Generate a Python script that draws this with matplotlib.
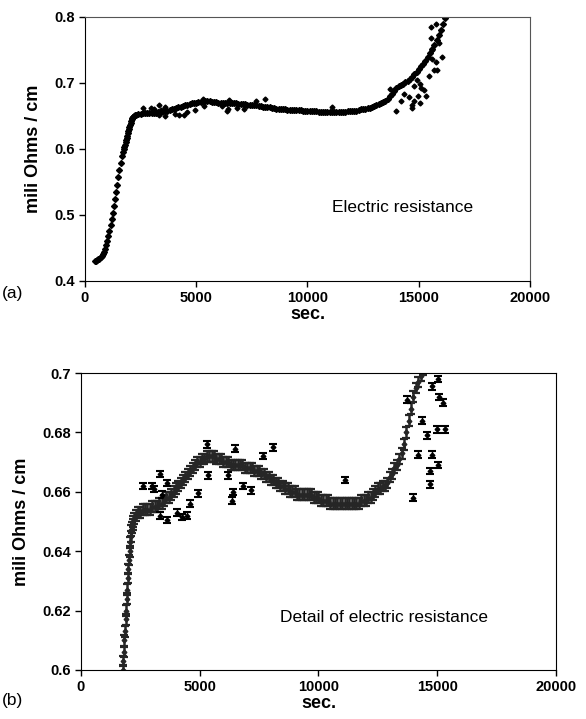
import numpy as np
import matplotlib.pyplot as plt

# resistance readings (sec., mili Ohms / cm)
time_s = [450, 500, 550, 600, 650, 700, 750, 800, 850, 900, 950, 1000, 1050, 1100,
          1150, 1200, 1250, 1300, 1350, 1400, 1450, 1500, 1550, 1600, 1650, 1700,
          1750, 1775, 1800, 1825, 1850, 1875, 1900, 1925, 1950, 1975, 2000, 2025,
          2050, 2075, 2100, 2125, 2150, 2175, 2200, 2250, 2300, 2400, 2500, 2600,
          2700, 2800, 2900, 3000, 3100, 3200, 3300, 3400, 3500, 3600, 3700, 3800,
          3900, 4000, 4100, 4200, 4300, 4400, 4500, 4600, 4700, 4800, 4900, 5000,
          5100, 5200, 5300, 5400, 5500, 5600, 5700, 5800, 5900, 6000, 6100, 6200,
          6300, 6400, 6500, 6600, 6700, 6800, 6900, 7000, 7100, 7200, 7300, 7400,
          7500, 7600, 7700, 7800, 7900, 8000, 8100, 8200, 8300, 8400, 8500, 8600,
          8700, 8800, 8900, 9000, 9100, 9200, 9300, 9400, 9500, 9600, 9700, 9800,
          9900, 10000, 10100, 10200, 10300, 10400, 10500, 10600, 10700, 10800, 10900,
          11000, 11100, 11200, 11300, 11400, 11500, 11600, 11700, 11800, 11900, 12000,
          12100, 12200, 12300, 12400, 12500, 12600, 12700, 12800, 12900, 13000, 13100,
          13200, 13300, 13400, 13500, 13600, 13700, 13800, 13900, 14000, 14100, 14200,
          14300, 14400, 14500, 14600, 14700, 14800, 14900, 15000, 15100, 15200, 15300,
          15400, 15500, 15600, 15700, 15800, 15900, 16000, 16100, 16200]
resistance = [.430, .431, .432, .433, .434, .436, .438, .441, .444, .449, .455, .461, .468, .476,
              .485, .494, .503, .513, .524, .535, .546, .557, .568, .579, .589, .596,
              .600, .603, .606, .610, .613, .617, .620, .624, .627, .631, .634, .637,
              .640, .643, .645, .647, .648, .649, .650, .651, .652, .653, .653, .654,
              .654, .654, .654, .655, .655, .655, .656, .656, .657, .658, .658, .659,
              .660, .661, .662, .663, .664, .665, .666, .667, .668, .669, .670, .670,
              .671, .671, .672, .672, .672, .672, .671, .671, .671, .670, .670, .670,
              .669, .669, .669, .669, .669, .669, .668, .668, .668, .668, .667, .667,
              .667, .666, .666, .665, .665, .664, .664, .663, .663, .662, .662, .661,
              .661, .660, .660, .660, .659, .659, .659, .659, .659, .659, .659, .658,
              .658, .658, .657, .657, .657, .657, .656, .656, .656, .656, .656,
              .656, .656, .656, .656, .656, .656, .656, .656, .657, .657, .657,
              .658, .658, .659, .660, .661, .661, .662, .662, .663, .665, .666,
              .668, .669, .671, .673, .676, .680, .684, .688, .692, .695, .697,
              .699, .701, .703, .706, .709, .713, .717, .721, .725, .729, .734,
              .739, .745, .751, .758, .765, .773, .781, .790, .799]

# scattered readings off the main trend
outlier_t = [2620, 2980, 3080, 3330, 3400, 3610, 3330, 3610, 4030, 4240, 4450, 4590, 4940,
             5290, 5360, 6180, 6480, 6410, 6370, 6830, 7140, 7680, 8070, 11120, 13980,
             13710, 14200, 14770, 14700, 15050, 14700, 14560, 14980, 15330, 15230, 14770,
             15050, 14340, 14940, 15090, 15465, 15610, 15690, 15765, 15840, 16065, 15540,
             15765, 15540, 15610, 15915, 15990]
outlier_r = [.662, .662, .661, .666, .659, .663, .652, .6505, .653, .6515, .652, .656, .6595,
             .676, .6655, .6655, .6745, .660, .657, .662, .6605, .672, .675, .664, .658,
             .691, .6725, .6725, .6625, .669, .667, .679, .681, .681, .690, .6955,
             .698, .684, .705, .692, .710, .737, .720, .732, .720, .740, .768,
             .790, .785, .750, .760, .780]
band_err = 0.0018   # dense overlapping bars of the main trend
point_err = 0.0011

tick_font = {'family': ['Liberation Sans', 'DejaVu Sans'], 'weight': 'bold', 'size': 10.5}
label_font = {'family': ['Liberation Sans', 'DejaVu Sans'], 'weight': 'bold', 'size': 13}
note_font = {'family': ['Liberation Sans', 'DejaVu Sans'], 'size': 12.5}
tag_font = {'family': ['Liberation Sans', 'DejaVu Sans'], 'size': 12.5}


def style_axis(ax, ylim, yticks):
    ax.set_xlim(0, 20000)
    ax.set_ylim(*ylim)
    ax.set_xticks([0, 5000, 10000, 15000, 20000])
    ax.set_xticklabels(['0', '5000', '10000', '15000', '20000'], fontdict=tick_font)
    ax.set_yticks(yticks)
    ax.set_yticklabels([f'{v:g}' for v in yticks], fontdict=tick_font)
    ax.tick_params(direction='out', length=4, width=1, pad=3)
    ax.set_xlabel('sec.', fontdict=label_font, labelpad=1)
    ax.set_ylabel('mili Ohms / cm', fontdict=label_font, labelpad=9)


fig = plt.figure(figsize=(5.86, 7.19), dpi=100)

# (a) full run
ax1 = fig.add_axes([0.145, 0.6092, 0.7594, 0.3672])
ax1.plot(time_s, resistance, 'D', color='black', markersize=3.0)
ax1.plot(outlier_t, outlier_r, 'D', color='black', markersize=2.5)
style_axis(ax1, (0.4, 0.8), [0.4, 0.5, 0.6, 0.7, 0.8])
for s in ['top', 'right']:
    ax1.spines[s].set_color('#555555')
ax1.text(11100, 0.511, 'Electric resistance', fontdict=note_font, va='center')
fig.text(0.004, 0.592, '(a)', fontdict=tag_font, va='center')

# (b) detail with error bars
ax2 = fig.add_axes([0.1382, 0.0682, 0.8106, 0.413])
ax2.errorbar(time_s, resistance, yerr=band_err, fmt='D', color='#262626', markersize=2.4,
             elinewidth=1.8, capsize=3.2, capthick=1.6)
ax2.errorbar(outlier_t, outlier_r, yerr=point_err, fmt='D', color='black', markersize=2.4,
             elinewidth=1.0, capsize=3.2, capthick=1.5)
style_axis(ax2, (0.6, 0.7), [0.6, 0.62, 0.64, 0.66, 0.68, 0.7])
ax2.text(8380, 0.6178, 'Detail of electric resistance', fontdict=note_font, va='center')
fig.text(0.004, 0.026, '(b)', fontdict=tag_font, va='center')

fig.savefig('out.png', dpi=100)
